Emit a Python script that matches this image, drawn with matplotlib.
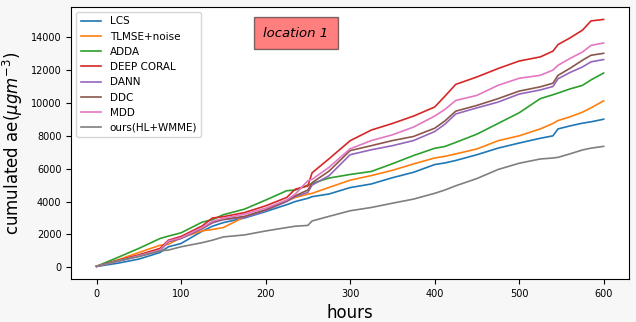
import numpy as np
import matplotlib
matplotlib.use('Agg')
import matplotlib.pyplot as plt

hours = [0, 25, 50, 75, 85, 100, 125, 137, 150, 175, 200, 225, 235, 250, 255, 275, 300,
         325, 350, 375, 400, 412, 425, 450, 475, 500, 525, 540, 546, 560, 575, 585, 600]

lcs = [50, 250, 500, 900, 1250, 1450, 2200, 2500, 2720, 3000, 3390, 3810, 4000, 4200, 4300, 4460, 4850,
       5070, 5450, 5780, 6250, 6350, 6500, 6850, 7250, 7560, 7850, 8000, 8420, 8600, 8770, 8850, 9010]
tlmse = [60, 450, 900, 1340, 1400, 1800, 2220, 2300, 2420, 3070, 3480, 4050, 4250, 4450, 4500, 4860, 5300,
         5580, 5900, 6290, 6650, 6750, 6900, 7200, 7700, 8000, 8420, 8750, 8930, 9150, 9440, 9700, 10130]
adda = [60, 600, 1150, 1750, 1900, 2100, 2750, 2900, 3200, 3540, 4090, 4660, 4700, 5000, 5100, 5430, 5650,
        5830, 6300, 6800, 7240, 7350, 7600, 8100, 8750, 9400, 10260, 10500, 10600, 10850, 11070, 11400, 11820]
deep_coral = [70, 420, 760, 1150, 1650, 1880, 2520, 3000, 3080, 3330, 3740, 4250, 4750, 4950, 5750, 6600, 7700,
              8350, 8750, 9200, 9750, 10400, 11130, 11580, 12090, 12550, 12800, 13150, 13550, 13950, 14430, 14990, 15080]
dann = [60, 360, 680, 1000, 1550, 1750, 2350, 2700, 2900, 3030, 3450, 4000, 4300, 4560, 5000, 5570, 6850,
        7150, 7400, 7710, 8260, 8700, 9330, 9700, 10050, 10540, 10790, 11000, 11470, 11850, 12190, 12500, 12640]
ddc = [60, 380, 700, 1020, 1580, 1780, 2380, 2750, 2920, 3100, 3500, 4050, 4350, 4700, 5150, 5850, 7100,
       7400, 7710, 7960, 8460, 8900, 9500, 9850, 10260, 10720, 10980, 11200, 11680, 12100, 12600, 12900, 13020]
mdd = [60, 380, 700, 1050, 1600, 1800, 2420, 2800, 2980, 3230, 3600, 4100, 4450, 5270, 5350, 6080, 7210,
       7710, 8060, 8530, 9200, 9600, 10150, 10460, 11070, 11500, 11680, 12000, 12290, 12700, 13100, 13500, 13650]
ours = [60, 400, 650, 1000, 1050, 1250, 1500, 1650, 1850, 1970, 2210, 2420, 2500, 2550, 2820, 3100, 3440,
        3640, 3900, 4150, 4500, 4700, 4960, 5400, 5950, 6330, 6590, 6650, 6690, 6900, 7140, 7250, 7360]

labels = ['LCS', 'TLMSE+noise', 'ADDA', 'DEEP CORAL', 'DANN', 'DDC', 'MDD', 'ours(HL+WMME)']
series = [lcs, tlmse, adda, deep_coral, dann, ddc, mdd, ours]

fig = plt.figure(figsize=(6.36, 3.22), dpi=100, facecolor='#f7f7f7')
ax = fig.add_axes([0.112, 0.134, 0.877, 0.844])

for vals, lab in zip(series, labels):
    ax.plot(hours, vals, label=lab, linewidth=1.2)

ax.set_xlabel('hours', fontsize=12)
ax.set_ylabel(r'cumulated ae($\mu g m^{-3}$)', fontsize=12)
ax.tick_params(labelsize=7)
ax.legend(loc='upper left', fontsize=7.5)
ax.text(0.403, 0.904, 'location 1', transform=ax.transAxes, ha='center', va='center',
        fontsize=9.5, style='italic',
        bbox=dict(facecolor='red', alpha=0.5, pad=7))

fig.savefig('out.png', dpi=100, facecolor=fig.get_facecolor())
